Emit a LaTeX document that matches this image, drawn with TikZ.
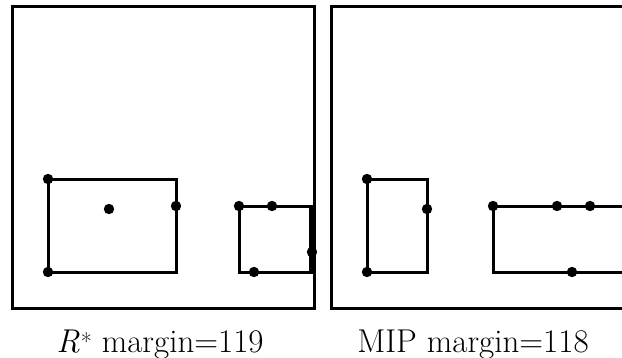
\documentclass[tikz,border=0pt]{standalone}
\tikzset{
  frame/.style={line width=3pt},
  boxline/.style={line width=3pt},
  dot/.style={fill=black},
  caption/.style={font=\fontsize{33}{38}\selectfont, anchor=base, inner sep=0pt}
}
\begin{document}
\begin{tikzpicture}[x=1pt,y=-1pt]
\useasboundingbox (0,0) rectangle (622,357);
\begin{scope}
\clip (0,0) rectangle (622,357);
% left panel
\draw[frame] (12,6) rectangle (314,308);
\draw[boxline] (48,179) rectangle (176,272);
\draw[boxline] (239,206) rectangle (311,272);
\draw[line width=4.5pt] (311,206) -- (311,272);
\foreach \p in {(48,179),(48,272),(176,206),(109,209),(239,206),(272,206),(254,272),(312,252)}
  \fill[dot] \p circle (5.2);
% right panel
\draw[frame] (630,6) -- (331,6) -- (331,308) -- (630,308);
\draw[boxline] (367,179) rectangle (427,272);
\draw[boxline] (630,206) -- (493,206) -- (493,272) -- (630,272);
\foreach \p in {(367,179),(367,272),(427,209),(493,206),(557,206),(590,206),(572,272)}
  \fill[dot] \p circle (5.2);
\end{scope}
\node[caption] (capL) at (160,352) {\textit{R}\kern1pt{\fontsize{24}{24}\selectfont\raisebox{2pt}{*}} margin=119};
\node[caption] (capR) at (473,352) {MIP margin=118};
\end{tikzpicture}
\end{document}
